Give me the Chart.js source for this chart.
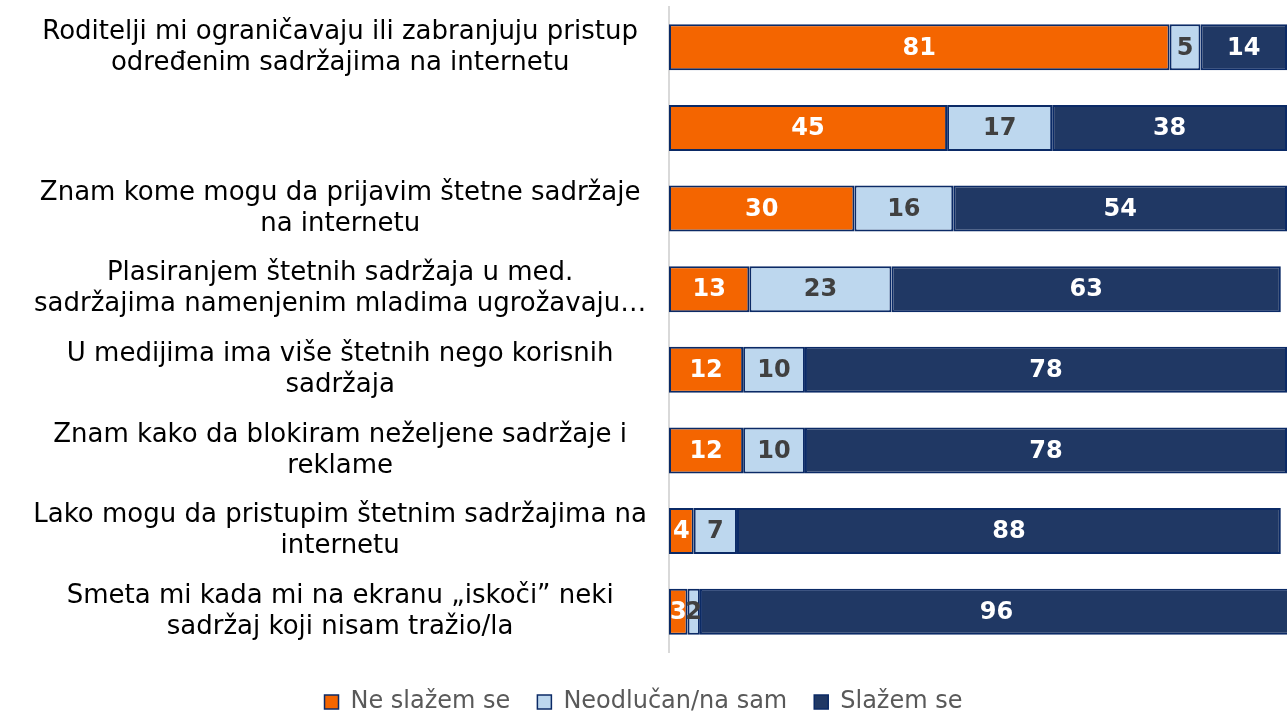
<!DOCTYPE html>
<html>
<head>
<meta charset="utf-8">
<script src="https://cdn.jsdelivr.net/npm/chart.js@4/dist/chart.umd.min.js"></script>
<style>
  html, body { margin: 0; padding: 0; background: #fff; }
  #wrap { width: 1287px; height: 714px; position: relative; }
</style>
</head>
<body>
<div id="wrap"><canvas id="chart"></canvas></div>
<script>
// --- data ---
const categories = [
  ['Roditelji mi ograničavaju ili zabranjuju pristup', 'određenim sadržajima na internetu'],
  '',
  ['Znam kome mogu da prijavim štetne sadržaje', 'na internetu'],
  ['Plasiranjem štetnih sadržaja u med.', 'sadržajima namenjenim mladima ugrožavaju…'],
  ['U medijima ima više štetnih nego korisnih', 'sadržaja'],
  ['Znam kako da blokiram neželjene sadržaje i', 'reklame'],
  ['Lako mogu da pristupim štetnim sadržajima na', 'internetu'],
  ['Smeta mi kada mi na ekranu „iskoči” neki', 'sadržaj koji nisam tražio/la']
];
const seriesNames = ['Ne slažem se', 'Neodlučan/na sam', 'Slažem se'];
const disagree = [81, 45, 30, 13, 12, 12, 4, 3];
const undecided = [5, 17, 16, 23, 10, 10, 7, 2];
const agree = [14, 38, 54, 63, 78, 78, 88, 96];

const FONT = 'DejaVu Sans, Verdana, sans-serif';
const COLORS = ['#F46500', '#BDD7EE', '#203864'];
const LABEL_COLORS = ['#ffffff', '#404040', '#ffffff'];
const EDGE = '#0B2A66';

// data labels drawn in the middle of each segment
const segmentLabels = {
  id: 'segmentLabels',
  afterDatasetsDraw(chart) {
    const ctx = chart.ctx;
    ctx.save();
    ctx.font = 'bold 24px ' + FONT;
    ctx.textAlign = 'center';
    ctx.textBaseline = 'middle';
    chart.data.datasets.forEach((ds, di) => {
      const meta = chart.getDatasetMeta(di);
      meta.data.forEach((bar, i) => {
        const v = ds.data[i];
        if (v == null) return;
        const x = Math.min((bar.x + bar.base) / 2, chart.chartArea.right);
        ctx.fillStyle = LABEL_COLORS[di];
        ctx.fillText(String(v), x, bar.y + 1);
      });
    });
    ctx.restore();
  }
};

const datasets = [disagree, undecided, agree].map((vals, i) => ({
  label: seriesNames[i],
  data: vals,
  backgroundColor: COLORS[i],
  borderColor: EDGE,
  borderWidth: 2,
  borderSkipped: false,
  barPercentage: 0.57,
  categoryPercentage: 1
}));

new Chart(document.getElementById('chart'), {
  type: 'bar',
  data: { labels: categories, datasets },
  plugins: [segmentLabels],
  options: {
    indexAxis: 'y',
    responsive: true,
    maintainAspectRatio: false,
    animation: false,
    layout: { padding: { top: 7, right: 0, bottom: -10, left: 0 } },
    scales: {
      x: {
        stacked: true,
        min: 0,
        max: 100,
        display: false
      },
      y: {
        stacked: true,
        grid: { display: false, drawTicks: false },
        border: { display: true, color: '#D9D9D9', width: 2 },
        ticks: {
          crossAlign: 'center',
          padding: 22,
          color: '#000000',
          font: { family: FONT, size: 26, lineHeight: 1.19 }
        },
        afterFit(scale) {
          scale.width = 669;
          scale.paddingTop = 0;
          scale.paddingBottom = 0;
        }
      }
    },
    plugins: {
      legend: {
        position: 'bottom',
        // empty title only used as a spacer above the legend row
        title: { display: true, text: '', font: { size: 1, lineHeight: 1 }, padding: { top: 10, bottom: 0 } },
        labels: {
          boxWidth: 14,
          boxHeight: 14,
          padding: 27,
          color: '#595959',
          font: { family: FONT, size: 24 },
          generateLabels(chart) {
            return chart.data.datasets.map((ds, i) => ({
              text: ds.label,
              fillStyle: ds.backgroundColor,
              strokeStyle: EDGE,
              lineWidth: 1.5,
              fontColor: '#595959',
              datasetIndex: i
            }));
          }
        }
      },
      tooltip: { enabled: false }
    }
  }
});
</script>
</body>
</html>
